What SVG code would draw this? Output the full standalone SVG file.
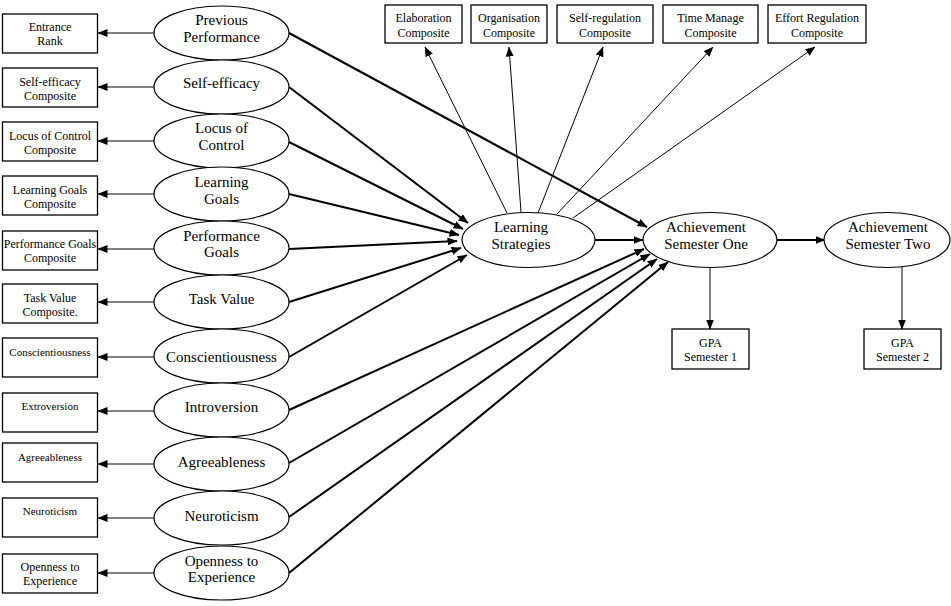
<svg xmlns="http://www.w3.org/2000/svg" width="951" height="606" viewBox="0 0 951 606">
<style>
  .bx{fill:#fff;stroke:#000;stroke-width:1.3}
  .el{fill:#fff;stroke:#000;stroke-width:1.2}
  .bt{font-family:"Liberation Serif","Times New Roman",serif;font-size:12px;text-anchor:middle;fill:#000}
  .bs{font-family:"Liberation Serif","Times New Roman",serif;font-size:11px;text-anchor:middle;fill:#000}
  .et{font-family:"Liberation Serif","Times New Roman",serif;font-size:15px;text-anchor:middle;fill:#000}
  .thin{stroke:#000;stroke-width:1;fill:none;marker-end:url(#ah)}
  .thick{stroke:#000;stroke-width:2;fill:none;marker-end:url(#ah)}
</style>
<defs>
  <marker id="ah" viewBox="0 0 10 8" refX="9.5" refY="4" markerWidth="10" markerHeight="8" markerUnits="userSpaceOnUse" orient="auto">
    <path d="M0,0 L10,4 L0,8 Z" fill="#000"/>
  </marker>
</defs>
<rect width="951" height="606" fill="#fff"/>

<g id="connectors">
  <!-- ellipse to indicator boxes -->
  <line class="thin" x1="154" y1="33" x2="98" y2="33"/>
  <line class="thin" x1="154" y1="87" x2="98" y2="87"/>
  <line class="thin" x1="154" y1="141" x2="98" y2="141"/>
  <line class="thin" x1="154" y1="194" x2="98" y2="194"/>
  <line class="thin" x1="154" y1="249" x2="98" y2="249"/>
  <line class="thin" x1="154" y1="302" x2="98" y2="302"/>
  <line class="thin" x1="154" y1="357" x2="98" y2="357"/>
  <line class="thin" x1="154" y1="411" x2="98" y2="411"/>
  <line class="thin" x1="154" y1="464" x2="98" y2="464"/>
  <line class="thin" x1="154" y1="518" x2="98" y2="518"/>
  <line class="thin" x1="154" y1="573" x2="98" y2="573"/>
  <!-- predictors to Learning Strategies -->
  <line class="thick" x1="289" y1="87" x2="468" y2="223"/>
  <line class="thick" x1="289" y1="142" x2="463" y2="229"/>
  <line class="thick" x1="289" y1="194" x2="459" y2="235"/>
  <line class="thick" x1="289" y1="249" x2="457" y2="241"/>
  <line class="thick" x1="289" y1="302" x2="461" y2="248"/>
  <line class="thick" x1="289" y1="357" x2="467" y2="255"/>
  <!-- predictors to Achievement Semester One -->
  <line class="thick" x1="289" y1="33" x2="647" y2="227"/>
  <line class="thick" x1="289" y1="410" x2="644" y2="249"/>
  <line class="thick" x1="289" y1="463" x2="650" y2="254"/>
  <line class="thick" x1="289" y1="517" x2="657" y2="259"/>
  <line class="thick" x1="289" y1="573" x2="668" y2="262"/>
  <!-- Learning strategies to composites -->
  <line class="thin" x1="507" y1="213" x2="425" y2="47"/>
  <line class="thin" x1="521" y1="212" x2="509" y2="47"/>
  <line class="thin" x1="538" y1="213" x2="603" y2="47"/>
  <line class="thin" x1="557" y1="214" x2="713" y2="47"/>
  <line class="thin" x1="573" y1="218" x2="815" y2="47"/>
  <!-- main chain -->
  <line class="thick" x1="595" y1="240" x2="643" y2="240"/>
  <line class="thick" x1="777" y1="240" x2="825" y2="240"/>
  <line class="thin" x1="710" y1="267" x2="710" y2="329"/>
  <line class="thin" x1="902" y1="267" x2="902" y2="329"/>
</g>

<!-- indicator boxes (left) -->
<g id="box-entrance-rank"><rect class="bx" x="2.5" y="14" width="95" height="39"/><text class="bt" x="50" y="31">Entrance</text><text class="bt" x="50" y="45">Rank</text></g>
<g id="box-self-efficacy"><rect class="bx" x="2.5" y="68" width="95" height="39"/><text class="bt" x="50" y="86">Self-efficacy</text><text class="bt" x="50" y="100">Composite</text></g>
<g id="box-locus"><rect class="bx" x="2.5" y="122" width="95" height="39"/><text class="bt" x="50" y="140">Locus of Control</text><text class="bt" x="50" y="154">Composite</text></g>
<g id="box-learning-goals"><rect class="bx" x="2.5" y="176" width="95" height="39"/><text class="bt" x="50" y="194">Learning Goals</text><text class="bt" x="50" y="208">Composite</text></g>
<g id="box-performance-goals"><rect class="bx" x="2.5" y="231" width="95" height="39"/><text class="bt" x="50" y="248">Performance Goals</text><text class="bt" x="50" y="262">Composite</text></g>
<g id="box-task-value"><rect class="bx" x="2.5" y="284" width="95" height="39"/><text class="bt" x="50" y="302">Task Value</text><text class="bt" x="50" y="316">Composite.</text></g>
<g id="box-conscientiousness"><rect class="bx" x="2.5" y="338" width="95" height="39"/><text class="bs" x="50" y="356">Conscientiousness</text></g>
<g id="box-extroversion"><rect class="bx" x="2.5" y="393" width="95" height="39"/><text class="bs" x="50" y="410">Extroversion</text></g>
<g id="box-agreeableness"><rect class="bx" x="2.5" y="443" width="95" height="39"/><text class="bs" x="50" y="461">Agreeableness</text></g>
<g id="box-neuroticism"><rect class="bx" x="2.5" y="498" width="95" height="39"/><text class="bs" x="50" y="515">Neuroticism</text></g>
<g id="box-openness"><rect class="bx" x="2.5" y="554" width="95" height="39"/><text class="bt" x="50" y="571">Openness to</text><text class="bt" x="50" y="585">Experience</text></g>

<!-- latent ellipses (left) -->
<g id="previous-performance"><ellipse class="el" cx="221.5" cy="33" rx="67.5" ry="27"/><text class="et" x="221.5" y="25">Previous</text><text class="et" x="221.5" y="42">Performance</text></g>
<g id="self-efficacy"><ellipse class="el" cx="221.5" cy="87" rx="67.5" ry="27"/><text class="et" x="221.5" y="88">Self-efficacy</text></g>
<g id="locus-of-control"><ellipse class="el" cx="221.5" cy="141" rx="67.5" ry="27"/><text class="et" x="221.5" y="133">Locus of</text><text class="et" x="221.5" y="150">Control</text></g>
<g id="learning-goals"><ellipse class="el" cx="221.5" cy="194" rx="67.5" ry="27"/><text class="et" x="221.5" y="187">Learning</text><text class="et" x="221.5" y="204">Goals</text></g>
<g id="performance-goals"><ellipse class="el" cx="221.5" cy="248" rx="67.5" ry="27"/><text class="et" x="221.5" y="241">Performance</text><text class="et" x="221.5" y="257">Goals</text></g>
<g id="task-value"><ellipse class="el" cx="221.5" cy="302" rx="67.5" ry="27"/><text class="et" x="221.5" y="304">Task Value</text></g>
<g id="conscientiousness"><ellipse class="el" cx="221.5" cy="356" rx="67.5" ry="27"/><text class="et" x="221.5" y="362">Conscientiousness</text></g>
<g id="introversion"><ellipse class="el" cx="221.5" cy="410" rx="67.5" ry="27"/><text class="et" x="221.5" y="412">Introversion</text></g>
<g id="agreeableness"><ellipse class="el" cx="221.5" cy="464" rx="67.5" ry="27"/><text class="et" x="221.5" y="467">Agreeableness</text></g>
<g id="neuroticism"><ellipse class="el" cx="221.5" cy="518" rx="67.5" ry="27"/><text class="et" x="221.5" y="521">Neuroticism</text></g>
<g id="openness"><ellipse class="el" cx="221.5" cy="573" rx="67.5" ry="27"/><text class="et" x="221.5" y="566">Openness to</text><text class="et" x="221.5" y="582">Experience</text></g>

<!-- top composite boxes -->
<g id="box-elaboration"><rect class="bx" x="385" y="5" width="77" height="38"/><text class="bt" x="423.5" y="22">Elaboration</text><text class="bt" x="423.5" y="37">Composite</text></g>
<g id="box-organisation"><rect class="bx" x="471" y="5" width="76" height="38"/><text class="bt" x="509" y="22">Organisation</text><text class="bt" x="509" y="37">Composite</text></g>
<g id="box-self-regulation"><rect class="bx" x="557" y="5" width="96" height="38"/><text class="bt" x="605" y="22">Self-regulation</text><text class="bt" x="605" y="37">Composite</text></g>
<g id="box-time-manage"><rect class="bx" x="663" y="5" width="95" height="38"/><text class="bt" x="710.5" y="22">Time Manage</text><text class="bt" x="710.5" y="37">Composite</text></g>
<g id="box-effort-regulation"><rect class="bx" x="768" y="5" width="98" height="38"/><text class="bt" x="817" y="22">Effort Regulation</text><text class="bt" x="817" y="37">Composite</text></g>

<!-- central ellipses -->
<g id="learning-strategies"><ellipse class="el" cx="528.5" cy="240" rx="66.5" ry="27.5"/><text class="et" x="521" y="232">Learning</text><text class="et" x="521" y="249">Strategies</text></g>
<g id="achievement-one"><ellipse class="el" cx="710" cy="240" rx="67" ry="27.5"/><text class="et" x="706" y="232">Achievement</text><text class="et" x="706" y="249">Semester One</text></g>
<g id="achievement-two"><ellipse class="el" cx="887" cy="240" rx="63" ry="27.5"/><text class="et" x="888" y="232">Achievement</text><text class="et" x="888" y="249">Semester Two</text></g>

<!-- GPA boxes -->
<g id="box-gpa1"><rect class="bx" x="672" y="329" width="77" height="40"/><text class="bt" x="710.5" y="347">GPA</text><text class="bt" x="710.5" y="361">Semester 1</text></g>
<g id="box-gpa2"><rect class="bx" x="864" y="329" width="77" height="40"/><text class="bt" x="902.5" y="347">GPA</text><text class="bt" x="902.5" y="361">Semester 2</text></g>
</svg>
